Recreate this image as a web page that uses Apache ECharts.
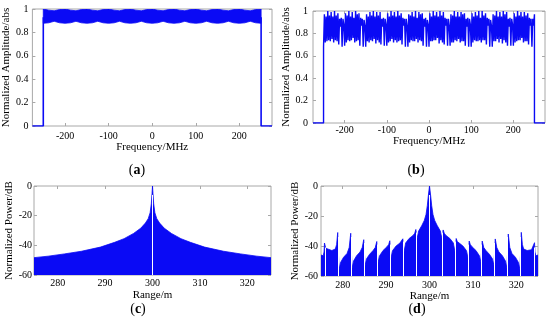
<!DOCTYPE html>
<html><head><meta charset="utf-8">
<script src="https://cdn.jsdelivr.net/npm/echarts@6/dist/echarts.min.js"></script>
<style>html,body{margin:0;padding:0;background:#fff}#c{width:550px;height:327px}</style>
</head><body><div id="c"></div>
<script>
// ---------- (a) spectrum band: envelope, every 12.5 MHz from -250 to 250 ----------
const freqStepA = 12.5;
const lowA = [0.878,0.882,0.895,0.882, 0.878,0.882,0.895,0.882, 0.878,0.882,0.895,0.882, 0.878,0.882,0.895,0.882,
              0.878,0.882,0.895,0.882, 0.878,0.882,0.895,0.882, 0.878,0.882,0.895,0.882, 0.878,0.882,0.895,0.882,
              0.878,0.882,0.895,0.882, 0.878,0.882,0.895,0.882, 0.878];
const highA = [1.0,0.99,0.985,0.995, 1.0,0.99,0.985,0.995, 1.0,0.99,0.985,0.995, 1.0,0.99,0.985,0.995,
               1.0,0.99,0.985,0.995, 1.0,0.99,0.985,0.995, 1.0,0.99,0.985,0.995, 1.0,0.99,0.985,0.995,
               1.0,0.99,0.985,0.995, 1.0,0.99,0.985,0.995, 1.0];
const edgeFreqL = [-275, -250, -250];
const edgeAmpL  = [0, 0, 0.93];
const edgeFreqR = [250, 250, 275];
const edgeAmpR  = [0.93, 0, 0];

// ---------- (b) spectrum samples every 2 MHz from -250 ----------
const freqStepB = 2;
const ampB = [
 0.68,0.97,0.72,0.95,0.73,1.00,0.74,0.96,0.73,0.99,0.75,0.95,0.72,1.00,0.74,0.96,0.73,0.98,0.70,0.93,0.86,0.94,0.68,0.93,0.88,
 0.69,0.98,0.72,0.96,0.74,1.00,0.73,0.95,0.74,0.99,0.76,0.94,0.72,1.00,0.73,0.97,0.74,0.98,0.69,0.94,0.87,0.93,0.68,0.92,0.87,
 0.68,0.97,0.73,0.95,0.72,0.99,0.74,0.96,0.73,1.00,0.75,0.95,0.71,0.99,0.74,0.96,0.72,0.99,0.70,0.93,0.86,0.94,0.69,0.93,0.88,
 0.69,0.98,0.72,0.95,0.73,1.00,0.75,0.96,0.72,0.99,0.74,0.95,0.72,1.00,0.73,0.96,0.74,0.98,0.70,0.94,0.87,0.93,0.68,0.93,0.87,
 0.68,0.97,0.72,0.96,0.74,0.99,0.73,0.95,0.73,1.00,0.75,0.94,0.72,0.99,0.74,0.97,0.73,0.98,0.69,0.93,0.86,0.94,0.68,0.92,0.88,
 0.68,0.98,0.73,0.95,0.73,1.00,0.74,0.96,0.74,0.99,0.76,0.95,0.71,1.00,0.74,0.96,0.72,0.99,0.70,0.94,0.87,0.93,0.69,0.93,0.87,
 0.69,0.97,0.72,0.96,0.72,1.00,0.74,0.95,0.73,0.99,0.75,0.95,0.72,0.99,0.73,0.97,0.73,0.98,0.69,0.93,0.86,0.94,0.68,0.93,0.88,
 0.68,0.98,0.72,0.95,0.74,0.99,0.73,0.96,0.73,1.00,0.74,0.94,0.72,1.00,0.74,0.96,0.74,0.98,0.70,0.94,0.87,0.93,0.68,0.92,0.87,
 0.68,0.97,0.73,0.96,0.73,1.00,0.75,0.95,0.72,0.99,0.75,0.95,0.71,1.00,0.74,0.97,0.72,0.99,0.69,0.93,0.86,0.94,0.69,0.93,0.88,
 0.69,0.98,0.72,0.95,0.73,1.00,0.74,0.96,0.74,0.99,0.76,0.95,0.72,0.99,0.73,0.96,0.73,0.98,0.70,0.94,0.87,0.93,0.68,0.93,0.87,
 0.97];
const edgeFreqB = [-275, -250, 250, 275];
const edgeAmpB  = [0, 0, 0, 0];

// ---------- (c) range profile envelope ----------
const rangeC = [275,278,281.4,285,289,292,294,296,297.5,298.5,299.1,299.5,299.75,299.9,
                300,
                300.1,300.25,300.5,300.9,301.5,302.5,304,306,308,311,315,318.6,322,325];
const powC = [-48.3,-47.3,-45.8,-44,-41.2,-38,-35.5,-32,-28.5,-25,-22,-18,-12,-5,
              0,
              -5,-12,-18,-22,-25,-28.5,-32,-35.5,-38,-41.2,-44,-45.8,-47.3,-48.3];
const gapC = [300];
const gapTopC = [-6];

// ---------- (d) range profile envelope ----------
const rangeD = [
 275.0,275.5,275.7,275.8,276.1,276.5,277.5,278.3,278.6,278.85,279.15,279.5,280.2,281.0,281.5,281.85,
 282.15,282.5,283.2,284.0,284.5,284.85,285.15,285.5,286.2,287.0,287.5,287.85,288.15,288.5,289.3,290.2,
 290.6,290.85,291.15,291.5,292.3,293.2,293.6,293.85,294.15,294.5,295.3,296.2,296.6,296.85,297.15,297.5,
 298.2,298.8,299.2,299.5,299.75,300,
 300.25,300.5,300.8,301.2,301.8,302.5,302.85,303.15,303.4,303.8,304.7,305.5,305.85,306.15,306.4,306.8,
 307.7,308.5,308.85,309.15,309.4,309.8,310.7,311.5,311.85,312.15,312.5,313.0,313.8,314.5,314.85,315.15,
 315.5,316.0,316.8,317.5,317.85,318.15,318.5,319.0,319.8,320.5,320.85,321.15,321.4,321.7,322.5,323.5,
 323.9,324.2,324.3,324.5,325.0];
const powD = [
 -46,-46.5,-44,-38,-41.5,-42.5,-43,-42,-39,-31,-56,-51,-47.5,-45,-41,-31.5,
 -55,-50,-46.5,-44,-41,-35.8,-53,-48.5,-45.5,-43,-41,-37,-51,-46.5,-43,-40.5,
 -39,-36.5,-48,-43,-40,-38,-37,-35.2,-44,-38,-35,-33,-31.5,-29,-35,-30,
 -26.5,-23,-19,-13,-6,0,
 -6,-13,-19,-23,-26.5,-30,-35,-29.3,-31.5,-33,-35,-38,-44,-35,-37,-38,
 -40,-43,-48,-36.7,-39,-40.5,-43,-46.5,-51,-36.7,-41,-43,-45.5,-48.5,-53,-35.3,
 -41,-44,-46.5,-50,-55,-32,-41,-45,-47.5,-51,-56,-30.9,-39,-42,-43,-42.5,
 -41.5,-37.8,-44,-46.5,-46];
const gapD    = [275.95,279,282,285,288,291,294,297,300,303,306,309,312,315,318,321,324.05];
const gapTopD = [-41,-34,-34,-38,-39,-39,-37,-31,-6,-31,-37,-39,-39,-38,-34,-34,-41];

// ---------- tick labels ----------
const ticksFreq = [-200,-100,0,100,200];
const ticksRange = [280,290,300,310,320];
const panelLetters = ['a','b','c','d'];

// ---------- styling ----------
const FONT = "'Liberation Serif','Times New Roman',serif";
const BLUE = '#0a0af5';
const FRAME = '#a8a8a8';
const TXT = '#000000';

const grids = [
  {left:32, top:9, width:240, height:117},
  {left:313, top:11, width:232, height:112},
  {left:34, top:186, width:237, height:89},
  {left:321, top:186, width:217, height:90}
].map(g => Object.assign(g, {show:true, borderColor:FRAME, borderWidth:1, containLabel:false}));

function xAxes(gi, min, max, ticks, name, nameGap, margin) {
  const base = {type:'value', gridIndex:gi, min, max, splitLine:{show:false}, axisLine:{show:false, onZero:false},
    axisTick:{show:true, inside:true, length:3, customValues:ticks, lineStyle:{color:FRAME}}};
  return [
    Object.assign({}, base, {position:'bottom', name, nameLocation:'middle', nameGap,
      nameTextStyle:{fontFamily:FONT, fontSize:11, color:TXT},
      axisLabel:{customValues:ticks, margin, fontFamily:FONT, fontSize:10, color:TXT}}),
    Object.assign({}, base, {position:'top', axisLabel:{show:false}})
  ];
}
function yAxes(gi, min, max, interval, name, nameGap, margin) {
  const base = {type:'value', gridIndex:gi, min, max, interval, splitLine:{show:false}, axisLine:{show:false, onZero:false},
    axisTick:{show:true, inside:true, length:3, lineStyle:{color:FRAME}}};
  return [
    Object.assign({}, base, {position:'left', name, nameLocation:'middle', nameGap,
      nameTextStyle:{fontFamily:FONT, fontSize:11, color:TXT},
      axisLabel:{margin, fontFamily:FONT, fontSize:10, color:TXT}}),
    Object.assign({}, base, {position:'right', axisLabel:{show:false}})
  ];
}

const xAxis = [].concat(
  xAxes(0, -275, 275, ticksFreq, 'Frequency/MHz', 15, 5),
  xAxes(1, -275, 275, ticksFreq, 'Frequency/MHz', 8, 2),
  xAxes(2, 275, 325, ticksRange, 'Range/m', 15, 3),
  xAxes(3, 275, 325, ticksRange, 'Range/m', 14, 4)
);
const yAxis = [].concat(
  yAxes(0, 0, 1, 0.2, 'Normalized Amplitude/abs', 19, 4),
  yAxes(1, 0, 1, 0.2, 'Normalized Amplitude/abs', 16, 5),
  yAxes(2, -60, 0, 20, 'Normalized Power/dB', 19, 2),
  yAxes(3, -60, 0, 20, 'Normalized Power/dB', 17, 3)
);

const zip = (xs, ys) => xs.map((x, i) => [x, ys[i]]);
const freqA = lowA.map((_, i) => -250 + i * freqStepA);
const freqB = ampB.map((_, i) => -250 + i * freqStepB);
const gapLines = (xs, tops) => xs.map((x, i) => [{coord:[x, -60]}, {coord:[x, tops[i]]}]);
const whiteMark = (xs, tops) => ({silent:true, symbol:['none','none'], label:{show:false},
  lineStyle:{color:'#ffffff', width:1, type:'solid', opacity:1}, emphasis:{disabled:true},
  data: gapLines(xs, tops)});

// band polygon for (a): upper envelope forward, lower envelope backward, through the axis scales
const bandSeriesA = {
  type:'custom', xAxisIndex:0, yAxisIndex:0, silent:true, clip:true,
  data: zip(freqA, highA),
  encode:{x:0, y:1},
  renderItem: function (params, api) {
    if (params.dataIndex !== 0) return null;
    const pts = freqA.map((f, i) => api.coord([f, highA[i]]))
      .concat(freqA.slice().reverse().map((f, j) => api.coord([f, lowA[freqA.length - 1 - j]])));
    return {type:'polygon', shape:{points:pts}, style:{fill:BLUE, stroke:BLUE, lineWidth:0.8}};
  }
};

const series = [
  // (a)
  bandSeriesA,
  {type:'line', xAxisIndex:0, yAxisIndex:0, symbol:'none', silent:true,
   lineStyle:{color:BLUE, width:1.6}, data: zip(edgeFreqL, edgeAmpL)},
  {type:'line', xAxisIndex:0, yAxisIndex:0, symbol:'none', silent:true,
   lineStyle:{color:BLUE, width:1.6}, data: zip(edgeFreqR, edgeAmpR)},
  // (b)
  {type:'line', xAxisIndex:2, yAxisIndex:2, symbol:'none', silent:true,
   lineStyle:{color:BLUE, width:1.4},
   data: [[edgeFreqB[0], edgeAmpB[0]], [edgeFreqB[1], edgeAmpB[1]]]
     .concat(zip(freqB, ampB))
     .concat([[edgeFreqB[2], edgeAmpB[2]], [edgeFreqB[3], edgeAmpB[3]]])},
  // (c)
  {type:'line', xAxisIndex:4, yAxisIndex:4, symbol:'none', silent:true,
   lineStyle:{color:BLUE, width:0.8}, areaStyle:{color:BLUE, opacity:1, origin:'start'},
   data: zip(rangeC, powC), markLine: whiteMark(gapC, gapTopC)},
  // (d)
  {type:'line', xAxisIndex:6, yAxisIndex:6, symbol:'none', silent:true,
   lineStyle:{color:BLUE, width:0.8}, areaStyle:{color:BLUE, opacity:1, origin:'start'},
   data: zip(rangeD, powD), markLine: whiteMark(gapD, gapTopD)}
];

const letterPos = [[137,170],[416,170],[138,309],[417,309]];
const graphic = panelLetters.map((l, i) => ({
  type:'text', x:letterPos[i][0], y:letterPos[i][1],
  style:{text:'{n|(}{b|' + l + '}{n|)}', align:'center', verticalAlign:'middle',
    rich:{n:{fontFamily:FONT, fontSize:14, fill:TXT, fontWeight:'normal'},
          b:{fontFamily:FONT, fontSize:14, fill:TXT, fontWeight:'bold'}}}
}));

const chart = echarts.init(document.getElementById('c'), null, {renderer:'canvas'});
chart.setOption({animation:false, backgroundColor:'#ffffff', grid:grids, xAxis, yAxis, series, graphic});
</script></body></html>
